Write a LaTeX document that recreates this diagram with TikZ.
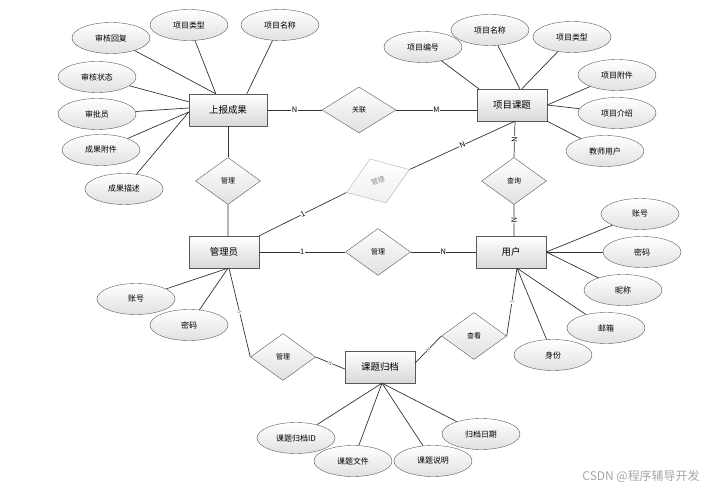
\documentclass[tikz,border=0pt]{standalone}
\usepackage{fontspec}
\setmainfont{Noto Sans CJK SC}
\usetikzlibrary{shapes.geometric}

\begin{document}
\begin{tikzpicture}[x=1bp,y=-1bp,
  every edge/.style={draw=black!80,line width=0.7bp},
  entity node/.style={rectangle,draw=black!65,top color=white,bottom color=black!15,
    minimum width=70bp,minimum height=32bp,inner sep=0pt,font=\fontsize{9.5}{10}\selectfont},
  attr node/.style={ellipse,draw=black!65,top color=white,bottom color=black!12,
    minimum width=78bp,minimum height=31bp,inner sep=0pt,font=\fontsize{8}{9}\selectfont},
  rel node/.style={diamond,draw=black!65,top color=white,bottom color=black!12,
    minimum width=65bp,minimum height=47bp,inner sep=0pt,font=\fontsize{7}{8}\selectfont},
  lab/.style={fill=white,inner sep=0.4bp,sloped,font=\fontsize{7.5}{8}\selectfont},
  small lab/.style={lab,text=black!60,font=\fontsize{5}{6}\selectfont}]

  \useasboundingbox (0,0) rectangle (716,491);

  % entities
  \node[entity node,minimum width=78bp] (1) at (228,110) {上报成果};
  \node[entity node] (2) at (512,105) {项目课题};
  \node[entity node] (3) at (224,252) {管理员};
  \node[entity node] (4) at (511,252) {用户};
  \node[entity node] (5) at (380,367) {课题归档};

  % relations
  \node[rel node,minimum width=74bp,minimum height=46bp] (6) at (359,110) {关联};
  \node[rel node] (7) at (228,181) {管理};
  \node[rel node,draw=black!30,text=black!45,top color=white,bottom color=black!6,
    minimum width=67bp,rotate=20] (8) at (378,181) {管理};
  \node[rel node] (9) at (514,181) {查询};
  \node[rel node] (10) at (378,252) {管理};
  \node[rel node] (11) at (283,357) {管理};
  \node[rel node] (12) at (474,336) {查看};

  % attributes
  \node[attr node] (13) at (111,38) {审核回复};
  \node[attr node] (14) at (189,25) {项目类型};
  \node[attr node] (15) at (280,25) {项目名称};
  \node[attr node] (16) at (97,77) {审核状态};
  \node[attr node] (17) at (97,114) {审批员};
  \node[attr node] (18) at (101,150) {成果附件};
  \node[attr node] (19) at (124,189) {成果描述};

  \node[attr node] (20) at (423,47) {项目编号};
  \node[attr node] (21) at (490,30) {项目名称};
  \node[attr node] (22) at (572,37) {项目类型};
  \node[attr node] (23) at (617,75) {项目附件};
  \node[attr node] (24) at (617,113) {项目介绍};
  \node[attr node] (25) at (605,151) {教师用户};

  \node[attr node] (26) at (640,214) {账号};
  \node[attr node] (27) at (642,252) {密码};
  \node[attr node] (28) at (623,290) {昵称};
  \node[attr node] (29) at (606,328) {邮箱};
  \node[attr node] (30) at (553,355) {身份};

  \node[attr node] (31) at (136,299) {账号};
  \node[attr node] (32) at (189,325) {密码};

  \node[attr node] (33) at (296,438) {课题归档ID};
  \node[attr node] (34) at (353,461) {课题文件};
  \node[attr node] (35) at (433,461) {课题说明};
  \node[attr node] (36) at (481,434) {归档日期};

  \node[text=black!35,font=\fontsize{12}{13}\selectfont] (37) at (641,476) {CSDN @程序辅导开发};

  % attribute lines
  \path (13) edge ([xshift=27bp]1.north west)
        (14) edge ([xshift=27bp]1.north west)
        (15) edge ([xshift=58bp]1.north west)
        (16) edge ([yshift=-8bp]1.north west)
        (17) edge ([yshift=2bp]1.west)
        (18) edge ([yshift=-2bp]1.west)
        (19) edge ([yshift=-2bp]1.west);

  \path (20) edge ([xshift=2bp]2.north west)
        (21) edge ([xshift=43bp]2.north west)
        (22) edge ([xshift=45bp]2.north west)
        (23) edge (2.east)
        (24) edge (2.east)
        (25) edge (2.south east);

  \path (26) edge (4.east)
        (27) edge (4.east)
        (28) edge (4.east)
        (29) edge ([xshift=6bp]4.south)
        (30) edge ([xshift=6bp]4.south);

  \path (31) edge ([xshift=4bp]3.south)
        (32) edge ([xshift=4bp]3.south);

  \path (33) edge ([xshift=2bp]5.south)
        (34) edge ([xshift=2bp]5.south)
        (35) edge ([xshift=2bp]5.south)
        (36) edge ([xshift=2bp]5.south);

  % relation lines
  \path (1.east) edge node[lab] {N} (6.west)
        (6.east) edge node[lab] {M} (6.east -| 2.west)
        (1.south) edge (7.north)
        (7.south) edge ([xshift=4bp]3.north)
        (3.north east) edge node[lab] {1} (8.west)
        (8.east) edge node[lab] {N} ([xshift=3bp]2.south)
        ([xshift=3bp]2.south) edge node[lab] {N} (9.north)
        (9.south) edge node[lab] {N} ([xshift=3bp]4.north)
        (3.east) edge node[lab] {1} (10.west)
        (10.east) edge node[lab] {N} (4.west)
        ([xshift=5bp]3.south) edge node[small lab] {1} (11.west)
        (11.east) edge node[small lab] {N} ([yshift=-2bp]5.west)
        ([yshift=4bp]5.east) edge node[small lab] {N} (12.west)
        ([xshift=6bp]4.south) edge node[small lab] {1} (12.east);

\end{tikzpicture}
\end{document}
